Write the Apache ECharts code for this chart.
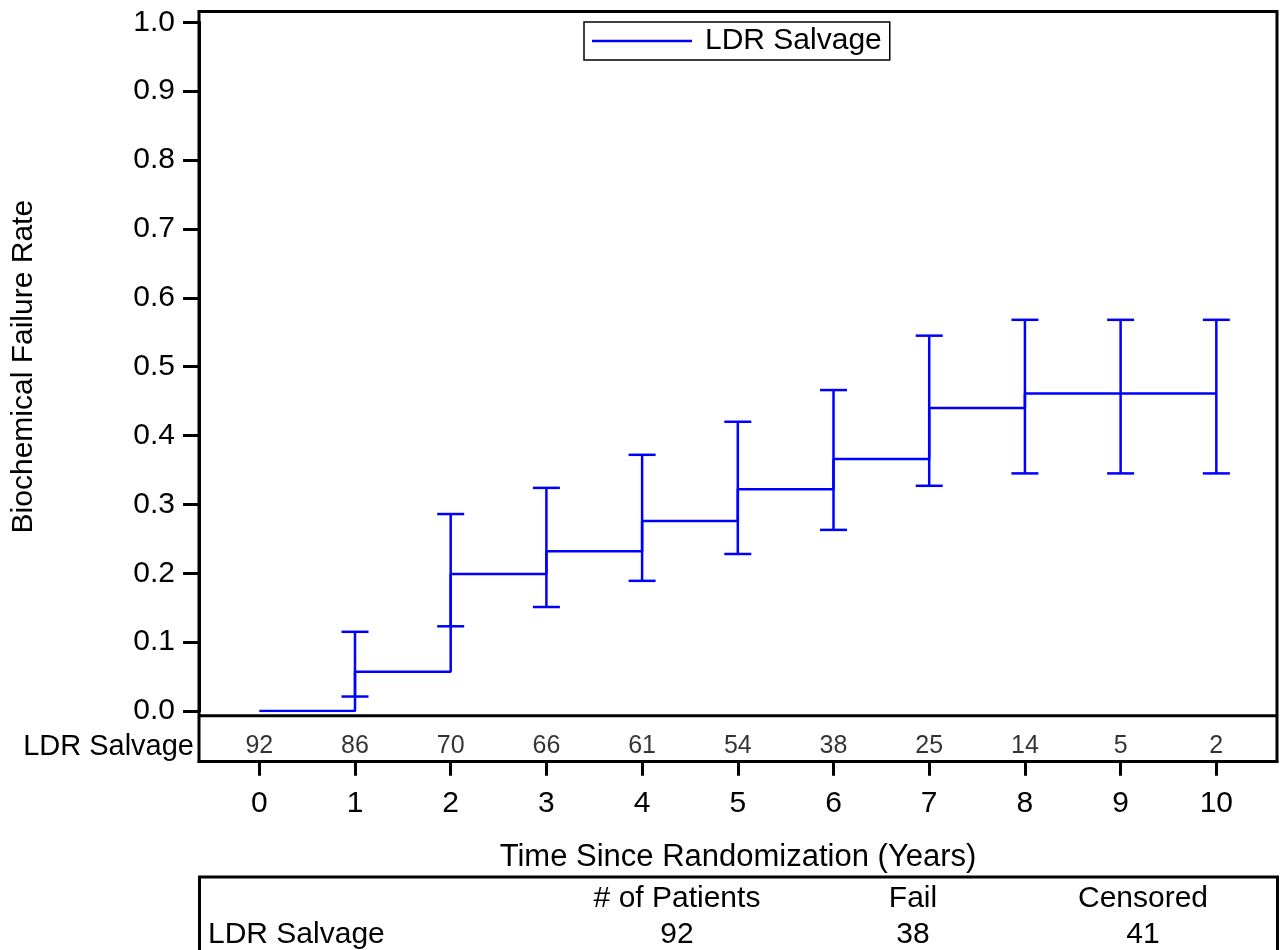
<!DOCTYPE html>
<html>
<head>
<meta charset="utf-8">
<script src="https://cdn.jsdelivr.net/npm/echarts@6/dist/echarts.min.js"></script>
<style>
  html, body { margin: 0; padding: 0; background: #fff; }
  #chart { width: 1286px; height: 950px; }
</style>
</head>
<body>
<div id="chart"></div>
<script>
var FONT = "'Liberation Sans', Arial, sans-serif";
var BLUE = '#0000ff';

// step curve (time in years, failure rate)
var stepTimes = [0, 1, 2, 3, 4, 5, 6, 7, 8, 10];
var stepRates = [0, 0.057, 0.199, 0.232, 0.276, 0.322, 0.366, 0.440, 0.461, 0.461];

// confidence limits at each year
var ciTimes = [1, 2, 3, 4, 5, 6, 7, 8, 9, 10];
var ciLower = [0.021, 0.123, 0.151, 0.189, 0.228, 0.263, 0.327, 0.345, 0.345, 0.345];
var ciUpper = [0.115, 0.286, 0.324, 0.372, 0.420, 0.466, 0.545, 0.568, 0.568, 0.568];

// number at risk
var riskTimes = [0, 1, 2, 3, 4, 5, 6, 7, 8, 9, 10];
var atRisk = [92, 86, 70, 66, 61, 54, 38, 25, 14, 5, 2];

// axis ticks
var xTicks = [0, 1, 2, 3, 4, 5, 6, 7, 8, 9, 10];
var xMin = -0.63, xMax = 10.634;   // frame edges, in years

var groupName = 'LDR Salvage';
var tableHeaders = ['# of Patients', 'Fail', 'Censored'];
var tableValues = [92, 38, 41];

var chart = echarts.init(document.getElementById('chart'));
window.addEventListener('resize', () => {chart.resize();});

var lineData = stepTimes.map(function (t, i) { return [t, stepRates[i]]; });
var ciData = ciTimes.map(function (t, i) { return [t, ciLower[i], ciUpper[i]]; });
var riskData = riskTimes.map(function (t, i) { return [t, groupName, atRisk[i]]; });

var colX = [677, 913, 1143];

chart.setOption({
    backgroundColor: '#fff',
    animation: false,
    textStyle: { fontFamily: FONT },
    legend: {
        left: 584,
        top: 22,
        padding: [4, 8, 4, 8],
        borderColor: '#000',
        borderWidth: 1.5,
        icon: 'rect',
        itemWidth: 100,
        itemHeight: 2.5,
        textStyle: { fontSize: 30, color: '#000', fontFamily: FONT, padding: [3, 0, 0, 8] },
        data: [groupName]
    },
    grid: [
        { left: 199, top: 22.3, width: 1078, height: 688.7 },   // curve
        { left: 199, top: 715.7, width: 1078, height: 46 },     // time axis under risk row
        { left: 199, top: 731, width: 1078, height: 31 }        // at-risk numbers
    ],
    xAxis: [{
        type: 'value', gridIndex: 0, min: xMin, max: xMax, show: false
    }, {
        type: 'value', gridIndex: 1, min: xMin, max: xMax,
        position: 'bottom',
        axisLine: { show: true, onZero: false, lineStyle: { color: '#000', width: 3 } },
        axisTick: { show: true, length: 14, customValues: xTicks, lineStyle: { color: '#000', width: 3 } },
        axisLabel: { fontSize: 30, color: '#000', margin: 27, fontFamily: FONT, customValues: xTicks },
        splitLine: { show: false },
        name: 'Time Since Randomization (Years)',
        nameLocation: 'middle', nameGap: 80,
        nameTextStyle: { fontSize: 31, color: '#000', fontFamily: FONT }
    }, {
        type: 'value', gridIndex: 2, min: xMin, max: xMax, show: false
    }],
    yAxis: [{
        type: 'value', gridIndex: 0, min: 0, max: 1, interval: 0.1,
        axisLine: { show: true, onZero: false, lineStyle: { color: '#000', width: 3 } },
        axisTick: { show: true, length: 16, lineStyle: { color: '#000', width: 3 } },
        axisLabel: { fontSize: 30, color: '#000', margin: 24, fontFamily: FONT,
            formatter: function (v) { return v.toFixed(1); } },
        splitLine: { show: false },
        name: 'Biochemical Failure Rate',
        nameLocation: 'middle', nameGap: 160, nameRotate: 90,
        nameTextStyle: { fontSize: 30, color: '#000', fontFamily: FONT }
    }, {
        type: 'value', gridIndex: 1, min: 0, max: 1, show: false
    }, {
        type: 'category', gridIndex: 2, data: [groupName],
        axisLine: { show: false, onZero: false },
        axisTick: { show: false },
        axisLabel: { fontSize: 29, color: '#000', margin: 5, fontFamily: FONT }
    }],
    series: [{
        name: groupName,
        type: 'line',
        step: 'end',
        xAxisIndex: 0, yAxisIndex: 0,
        symbol: 'none',
        lineStyle: { color: BLUE, width: 2.5 },
        itemStyle: { color: BLUE },
        data: lineData
    }, {
        type: 'custom',
        xAxisIndex: 0, yAxisIndex: 0,
        encode: { x: 0, y: [1, 2] },
        renderItem: function (params, api) {
            var x = api.value(0);
            var lo = api.coord([x, api.value(1)]);
            var hi = api.coord([x, api.value(2)]);
            var w = 13.5;
            var st = { stroke: BLUE, lineWidth: 2.5 };
            return {
                type: 'group',
                children: [
                    { type: 'line', shape: { x1: lo[0], y1: lo[1], x2: hi[0], y2: hi[1] }, style: st },
                    { type: 'line', shape: { x1: hi[0] - w, y1: hi[1], x2: hi[0] + w, y2: hi[1] }, style: st },
                    { type: 'line', shape: { x1: lo[0] - w, y1: lo[1], x2: lo[0] + w, y2: lo[1] }, style: st }
                ]
            };
        },
        data: ciData
    }, {
        type: 'scatter',
        xAxisIndex: 2, yAxisIndex: 2,
        symbolSize: 1,
        itemStyle: { color: '#fff' },
        label: {
            show: true, position: 'inside', color: '#000', fontSize: 25, fontFamily: FONT,
            textBorderWidth: 0,
            formatter: function (p) { return String(p.value[2]); }
        },
        data: riskData
    }],
    graphic: [
        { type: 'rect', shape: { x: 199, y: 11.5, width: 1078, height: 750 },
          style: { fill: null, stroke: '#000', lineWidth: 3 }, z: 10 },
        { type: 'line', shape: { x1: 199, y1: 715.7, x2: 1277, y2: 715.7 },
          style: { stroke: '#000', lineWidth: 3 }, z: 10 },
        { type: 'rect', shape: { x: 199.5, y: 877, width: 1078, height: 80 },
          style: { fill: null, stroke: '#000', lineWidth: 3 }, z: 10 },
        { type: 'text', x: 208, y: 935, z: 10,
          style: { text: groupName, fontSize: 30, fontFamily: FONT, fill: '#000',
                   textAlign: 'left', textVerticalAlign: 'middle' } }
    ].concat(tableHeaders.map(function (h, i) {
        return { type: 'text', x: colX[i], y: 899, z: 10,
          style: { text: h, fontSize: 30, fontFamily: FONT, fill: '#000',
                   textAlign: 'center', textVerticalAlign: 'middle' } };
    })).concat(tableValues.map(function (v, i) {
        return { type: 'text', x: colX[i], y: 935, z: 10,
          style: { text: String(v), fontSize: 30, fontFamily: FONT, fill: '#000',
                   textAlign: 'center', textVerticalAlign: 'middle' } };
    }))
});
</script>
</body>
</html>
